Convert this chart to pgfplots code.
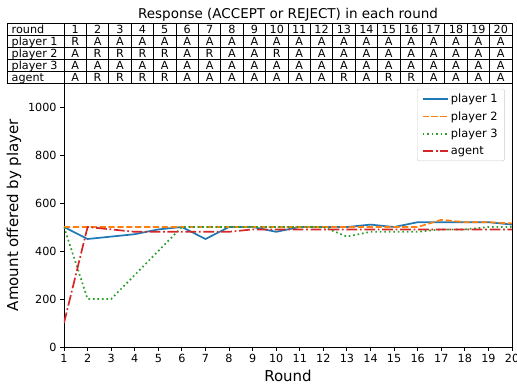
\documentclass[border=0pt]{standalone}
\usepackage{fontspec}
\setmainfont{DejaVu Sans}
\usepackage{pgfplots}
\pgfplotsset{compat=1.18}
\definecolor{mblue}{HTML}{1F77B4}
\definecolor{morange}{HTML}{FF7F0E}
\definecolor{mgreen}{HTML}{2CA02C}
\definecolor{mred}{HTML}{D62728}
\begin{document}
\begin{tikzpicture}[x=1pt,y=1pt]
\begin{axis}[
  scale only axis,
  width=448pt, height=264pt,
  xmin=1, xmax=20, ymin=0, ymax=1100,
  xtick={1,...,20}, ytick={0,200,...,1000},
  tick align=outside, major tick length=3.9pt,
  xtick pos=left, ytick pos=left,
  tick style={black, line width=0.9pt},
  axis line style={line width=0.9pt},
  ticklabel style={font=\fontsize{11.2}{13}\selectfont},
  /pgf/number format/assume math mode=true,
  /pgf/number format/1000 sep={},
  xlabel={Round}, ylabel={Amount offered by player},
  label style={font=\fontsize{15}{18}\selectfont},
  legend cell align=left,
  legend style={at={(0.984,0.978)}, anchor=north east, draw=black!20,
    rounded corners=2pt, font=\fontsize{11.4}{13}\selectfont, row sep=3.3pt,
    inner xsep=4.5pt, inner ysep=3pt,
    nodes={inner xsep=2.5pt, inner ysep=2pt}},
  legend image code/.code={\draw[#1] (0pt,0pt) -- (25pt,0pt);},
]
\coordinate (O) at (rel axis cs:0,0);
\addplot[mblue, line width=1.7pt] coordinates {
(1,500) (2,450) (3,460) (4,470) (5,490) (6,500) (7,450) (8,500) (9,500) (10,480)
(11,500) (12,500) (13,500) (14,510) (15,500) (16,520) (17,520) (18,520) (19,520) (20,510)};
\addlegendentry{player 1}
\addplot[morange, line width=1.7pt, dash pattern=on 6.2pt off 2.7pt] coordinates {
(1,500) (2,500) (3,500) (4,500) (5,500) (6,500) (7,500) (8,500) (9,500) (10,500)
(11,500) (12,500) (13,500) (14,500) (15,500) (16,500) (17,530) (18,520) (19,520) (20,515)};
\addlegendentry{player 2}
\addplot[mgreen, line width=1.7pt, dash pattern=on 1.7pt off 2.8pt] coordinates {
(1,500) (2,200) (3,200) (4,300) (5,400) (6,500) (7,500) (8,500) (9,500) (10,500)
(11,500) (12,500) (13,460) (14,480) (15,480) (16,480) (17,490) (18,490) (19,500) (20,500)};
\addlegendentry{player 3}
\addplot[mred, line width=1.7pt, dash pattern=on 10.8pt off 2.7pt on 1.7pt off 2.7pt] coordinates {
(1,100) (2,500) (3,490) (4,480) (5,480) (6,480) (7,480) (8,480) (9,490) (10,490)
(11,490) (12,490) (13,490) (14,490) (15,490) (16,490) (17,490) (18,490) (19,490) (20,490)};
\addlegendentry{agent}
\end{axis}
\begin{scope}[shift={(O)}, shift={(-64,-37)}]
% title
\node[anchor=base, font=\fontsize{13.5}{16}\selectfont] at (288,365.7) {Response (ACCEPT or REJECT) in each round};
% table grid
\foreach \k in {0,...,5} \draw[line width=0.9pt] (7,360.7-12*\k) -- (512,360.7-12*\k);
\draw[line width=0.9pt] (7,360.7) -- (7,300.7);
\foreach \k in {0,...,20} \draw[line width=0.9pt] (64+22.4*\k,360.7) -- (64+22.4*\k,300.7);
\begin{scope}[every node/.style={font=\fontsize{11.2}{13}\selectfont, inner sep=0pt}]
\foreach \lab [count=\i from 0] in {round, player 1, player 2, player 3, agent}
  \node[anchor=base west] at (11.5,350.7-12*\i) {\lab};
\foreach \v [count=\c] in {1,2,3,4,5,6,7,8,9,10,11,12,13,14,15,16,17,18,19,20}
  \node[anchor=base] at (52.8+22.4*\c,350.7) {\v};
\foreach \v [count=\c] in {R,A,A,A,A,A,A,A,A,A,A,A,A,A,A,A,A,A,A,A}
  \node[anchor=base] at (52.8+22.4*\c,338.7) {\v};
\foreach \v [count=\c] in {A,R,R,R,R,A,R,A,A,R,A,A,A,A,A,A,A,A,A,A}
  \node[anchor=base] at (52.8+22.4*\c,326.7) {\v};
\foreach \v [count=\c] in {A,A,A,A,A,A,A,A,A,A,A,A,A,A,A,A,A,A,A,A}
  \node[anchor=base] at (52.8+22.4*\c,314.7) {\v};
\foreach \v [count=\c] in {A,R,R,R,R,A,A,A,A,A,A,A,R,A,R,R,A,A,A,A}
  \node[anchor=base] at (52.8+22.4*\c,302.7) {\v};
\end{scope}
\pgfresetboundingbox
\useasboundingbox (0,0) rectangle (517,384);
\end{scope}
\end{tikzpicture}
\end{document}
